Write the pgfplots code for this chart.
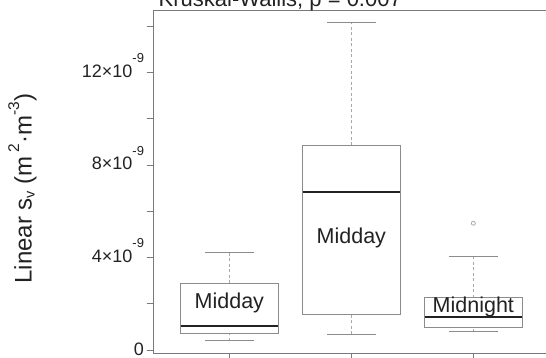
\documentclass[border=0pt]{standalone}
\usepackage{fontspec}
\setmainfont{Liberation Sans}
\usepackage{pgfplots}
\pgfplotsset{compat=1.18}
\usepgfplotslibrary{statistics}
\definecolor{boxc}{HTML}{8C8C8C}
\definecolor{whc}{HTML}{A8A8A8}
\definecolor{axc}{HTML}{7A7A7A}
\definecolor{txt}{HTML}{222222}
\newcommand{\sci}[1]{#1×10\raisebox{14.5pt}{\fontsize{13}{13}\selectfont -9}}
\pgfplotsset{
 myboxplot/.style={
  boxplot/draw direction=y,
  boxplot/box extend=0.8,
  boxplot/whisker extend=0.4,
  boxplot/draw/box/.code={\draw[boxc, line width=1pt] (boxplot box cs:\pgfplotsboxplotvalue{lower quartile},0) rectangle (boxplot box cs:\pgfplotsboxplotvalue{upper quartile},1);},
  boxplot/draw/median/.code={\draw[txt, line width=1.8pt] (boxplot box cs:\pgfplotsboxplotvalue{median},0) -- (boxplot box cs:\pgfplotsboxplotvalue{median},1);},
  boxplot/draw/lower whisker/.code={%
   \draw[whc, line width=0.9pt, dash pattern=on 3pt off 2.5pt] (boxplot box cs:\pgfplotsboxplotvalue{lower whisker},0.5) -- (boxplot box cs:\pgfplotsboxplotvalue{lower quartile},0.5);
   \draw[boxc, line width=1pt] (boxplot whisker cs:\pgfplotsboxplotvalue{lower whisker},0) -- (boxplot whisker cs:\pgfplotsboxplotvalue{lower whisker},1);},
  boxplot/draw/upper whisker/.code={%
   \draw[whc, line width=0.9pt, dash pattern=on 3pt off 2.5pt] (boxplot box cs:\pgfplotsboxplotvalue{upper quartile},0.5) -- (boxplot box cs:\pgfplotsboxplotvalue{upper whisker},0.5);
   \draw[boxc, line width=1pt] (boxplot whisker cs:\pgfplotsboxplotvalue{upper whisker},0) -- (boxplot whisker cs:\pgfplotsboxplotvalue{upper whisker},1);},
 }
}
\begin{document}
\begin{tikzpicture}
\begin{axis}[
 x=122pt, y=23.14pt,
 xmin=0.38, xmax=3.62, ymin=-0.14, ymax=14.69,
 axis line style={axc, line width=0.8pt},
 tick style={axc, line width=0.8pt},
 tick align=outside, tick pos=left,
 major tick length=7pt,
 xtick={1,2,3}, xticklabels={},
 ytick={0,2,4,6,8,10,12,14},
 yticklabels={0\hspace{7pt},,\sci{4},,\sci{8},,\sci{12},},
 yticklabel style={anchor=base east, inner sep=0pt, xshift=-2.5pt, yshift=-5pt, font=\fontsize{18}{20}\selectfont, text=txt},
 clip=false,
]
\addplot[myboxplot, boxplot prepared={lower whisker=0.40, lower quartile=0.70, median=1.04, upper quartile=2.88, upper whisker=4.22, draw position=1}] coordinates {};
\addplot[myboxplot, boxplot prepared={lower whisker=0.68, lower quartile=1.54, median=6.84, upper quartile=8.86, upper whisker=14.16, draw position=2}] coordinates {};
\addplot[myboxplot, whc, mark=o, mark size=2pt, mark options={whc, line width=0.8pt, solid}, boxplot prepared={lower whisker=0.79, lower quartile=0.98, median=1.44, upper quartile=2.25, upper whisker=4.03, draw position=3}] coordinates {(0,5.48)};
\node[anchor=base, text=txt, font=\fontsize{21.5}{24}\selectfont] at (axis cs:1,1.80) {Midday};
\node[anchor=base, text=txt, font=\fontsize{21.5}{24}\selectfont] at (axis cs:2,4.62) {Midday};
\node[anchor=base, text=txt, font=\fontsize{21.5}{24}\selectfont] at (axis cs:3,1.61) {Midnight};
\node[anchor=base west, text=txt, font=\fontsize{22}{24}\selectfont] at ([xshift=1.5pt, yshift=4pt]rel axis cs:0,1) {Kruskal-Wallis, p = 0.007};
\coordinate (SW) at (rel axis cs:0,0);
\coordinate (W) at (rel axis cs:0,0.5);
\end{axis}
\node[rotate=90, anchor=base, text=txt, font=\fontsize{24}{26}\selectfont] at ([xshift=-122pt, yshift=-6.9pt]W) {Linear s\raisebox{-3pt}{\fontsize{14.5}{14}\selectfont v} (m\,\raisebox{12.5pt}{\fontsize{15.5}{15}\selectfont 2}·m\raisebox{12.5pt}{\fontsize{15.5}{15}\selectfont -3})};
\pgfresetboundingbox
\path[use as bounding box] ([shift={(-153.7pt,-4.7pt)}]SW) rectangle ([shift={(392.3pt,353.3pt)}]SW);
\end{tikzpicture}
\end{document}
